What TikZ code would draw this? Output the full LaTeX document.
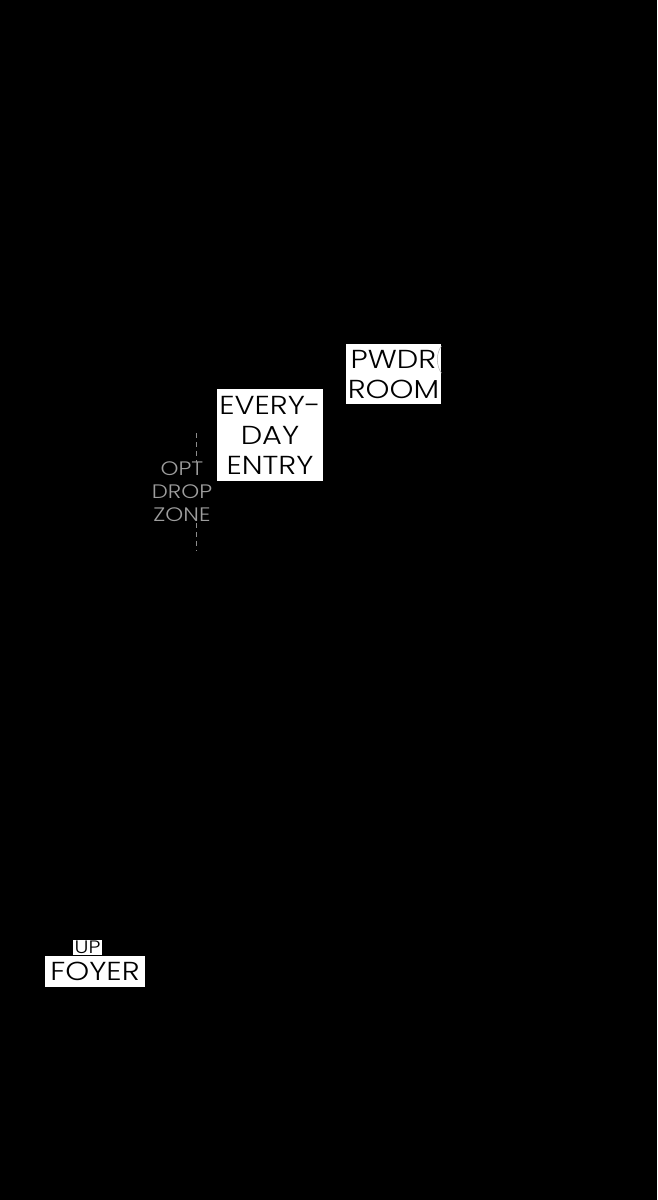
\documentclass[tikz,border=0pt]{standalone}
\usepackage{fontspec}
\IfFontExistsTF{Poppins Light}
  {\setmainfont{Poppins Light}[FakeStretch=1.17]}
  {\setmainfont{Poppins}[FakeStretch=1.17]}
\begin{document}
\begin{tikzpicture}[x=1pt,y=-1pt,
  roombox/.style={fill=white,inner sep=0pt,align=center,text=black},
  biglabel/.style={font=\fontsize{26}{30}\selectfont},
  greylabel/.style={fill=black,text=black!38!white,inner sep=0.5pt,align=center,font=\fontsize{19.5}{23}\selectfont},
  guide/.style={draw=black!45!white,line width=0.6pt,dash pattern=on 5pt off 4pt}]
\useasboundingbox (0,0) rectangle (657,1200);
\fill[black] (0,0) rectangle (657,1200);
% dashed guide line
\coordinate (gtop) at (196.5,433);
\coordinate (gbot) at (196.5,551);
\draw[guide] (gtop) -- (gbot);
% boxes
\node[roombox,biglabel,minimum width=95pt,minimum height=60pt] (pwdr) at (393.5,374) {PWDR\\ROOM};
\node[roombox,biglabel,minimum width=106pt,minimum height=92pt] (entry) at (270,435) {EVERY-\\DAY\\ENTRY};
\node[greylabel] (drop) at (182,492) {OPT\\DROP\\ZONE};
\node[roombox,font=\fontsize{18}{18}\selectfont,minimum width=29pt,minimum height=15pt,inner sep=0pt] (up) at (87.5,947.5) {UP};
\node[roombox,biglabel,minimum width=100pt,minimum height=31pt] (foyer) at (95,971.5) {FOYER};
% door swing arc
\coordinate (a1) at (441.5,346);
\coordinate (a2) at (441.5,373);
\draw[black!30!white,line width=0.5pt] (a1) .. controls (436,353) and (436,366) .. (a2);
\end{tikzpicture}
\end{document}
